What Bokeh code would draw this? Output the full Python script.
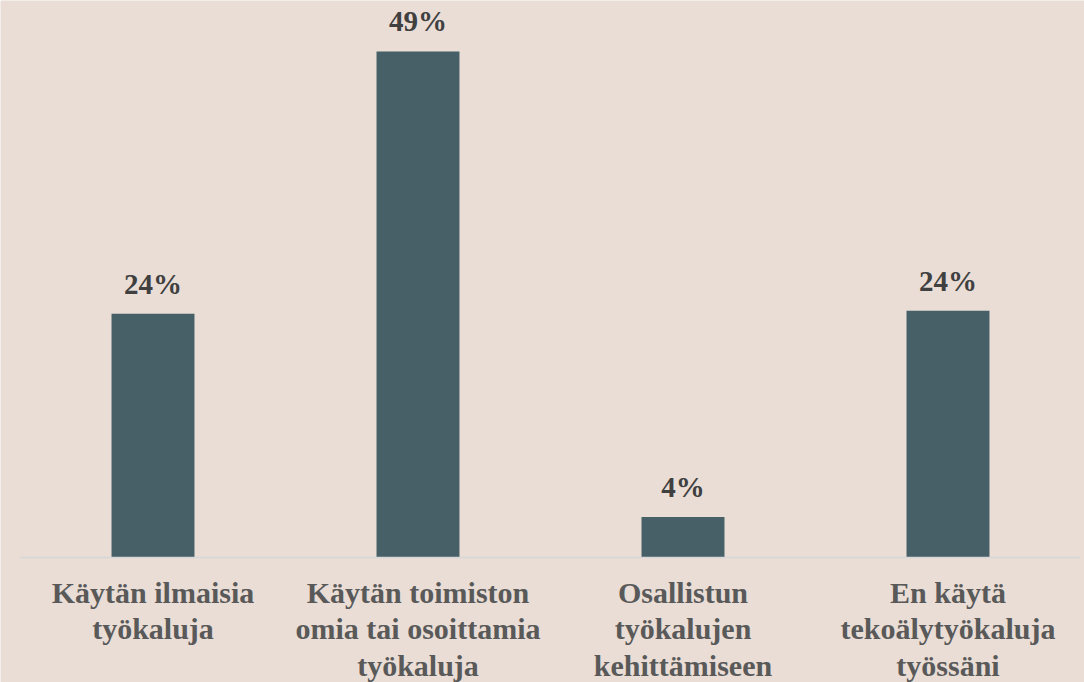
from bokeh.plotting import figure
from bokeh.models import ColumnDataSource, Range1d
from bokeh.core.properties import value
from bokeh.embed import file_html
from bokeh.resources import INLINE

categories = [
    "Käytän ilmaisia\ntyökaluja",
    "Käytän toimiston\nomia tai osoittamia\ntyökaluja",
    "Osallistun\ntyökalujen\nkehittämiseen",
    "En käytä\ntekoälytyökaluja\ntyössäni",
]
values = [23.5, 48.8, 3.9, 23.8]
value_labels = ["24%", "49%", "4%", "24%"]

W, H = 1084, 682
BG = "#E9DDD5"
BAR = "#475F66"
FONT = value("Liberation Serif")

px_per_unit = 265.0
px_per_pct = 10.37
baseline_px = 557.0
first_center_px = 152.5

x_start = -first_center_px / px_per_unit
x_end = x_start + W / px_per_unit
y_end = baseline_px / px_per_pct
y_start = -(H - baseline_px) / px_per_pct

xs = list(range(len(categories)))
src = ColumnDataSource(dict(x=xs, top=values, cat=categories, lab=value_labels))

p = figure(width=W, height=H, output_backend="svg", toolbar_location=None,
           x_range=Range1d(x_start, x_end), y_range=Range1d(y_start, y_end),
           min_border=0, min_border_left=0, min_border_right=0,
           min_border_top=0, min_border_bottom=0)
p.background_fill_color = BG
p.border_fill_color = BG
p.outline_line_color = None
p.axis.visible = False
p.grid.visible = False

p.vbar(x="x", top="top", bottom=0, width=0.313, source=src,
       fill_color=BAR, line_color=None)

# baseline across category bands
p.segment(x0=[-0.5], x1=[len(categories) - 0.5], y0=[0], y1=[0],
          line_color="#D6D7D8", line_width=1.5)

p.text(x="x", y="top", text="lab", source=src, text_align="center",
       text_baseline="alphabetic", y_offset=-30,
       text_font=FONT, text_font_style="bold",
       text_font_size="29px", text_color="#404040")

p.text(x="x", y=0, text="cat", source=src, text_align="center",
       text_baseline="top", y_offset=18, text_line_height=1.11,
       text_font=FONT, text_font_style="bold",
       text_font_size="30px", text_color="#595959")

open("out.html", "w").write(file_html(p, INLINE))
